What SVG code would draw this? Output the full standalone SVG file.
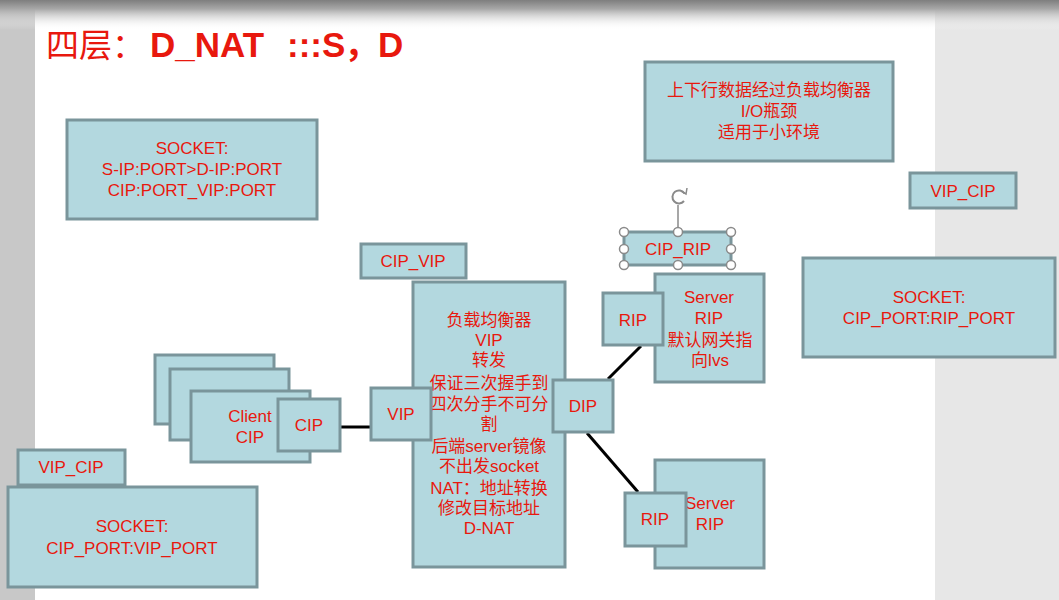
<svg xmlns="http://www.w3.org/2000/svg" width="1059" height="600" viewBox="0 0 1059 600">
<defs>
<linearGradient id="topg" x1="0" y1="0" x2="0" y2="1">
<stop offset="0" stop-color="#7e7e7e"/>
<stop offset="0.3" stop-color="#a8a8a8"/>
<stop offset="1" stop-color="#ffffff" stop-opacity="0"/>
</linearGradient>
<style>
.b{fill:#b3d8df;stroke:#7a959b;stroke-width:3}
.t{fill:#e8180e;font-family:"Liberation Sans","Noto Sans CJK SC",sans-serif;font-size:17px;text-anchor:middle}
.c{stroke:#000;stroke-width:3;fill:none}
.h{fill:#fff;stroke:#8a8a8a;stroke-width:1.5}
.tt{fill:#e8180e;font-family:"Liberation Sans","Noto Sans CJK SC",sans-serif;font-weight:bold;font-size:35px}
</style>
</defs>
<g id="background">
<rect x="0" y="0" width="1059" height="600" fill="#c8c8c8"/>
<rect x="35" y="8" width="900" height="592" fill="#ffffff"/>
<rect x="935" y="8" width="124" height="592" fill="#e7e7e7"/>
<rect x="0" y="0" width="1059" height="30" fill="url(#topg)"/>
</g>
<g id="title">
<text x="46" y="57" fill="#e8180e" font-family="'Noto Sans CJK SC',sans-serif" font-size="33">四层：</text>
<text class="tt" x="150" y="57">D_NAT</text>
<text class="tt" x="287" y="57">:::S</text>
<text class="tt" x="344" y="57" font-family="'Noto Sans CJK SC',sans-serif" font-weight="normal" font-size="33">，</text>
<text class="tt" x="378" y="57">D</text>
</g>
<g id="connectors">
<line class="c" x1="340" y1="427" x2="372" y2="427"/>
<line class="c" x1="608" y1="379" x2="641" y2="346"/>
<line class="c" x1="587" y1="433" x2="638" y2="492"/>
</g>
<g id="socket-top">
<rect class="b" x="67" y="120" width="250" height="99"/>
<text class="t" x="192" y="154">SOCKET:</text>
<text class="t" x="192" y="175">S-IP:PORT&gt;D-IP:PORT</text>
<text class="t" x="192" y="196">CIP:PORT_VIP:PORT</text>
</g>
<g id="note-top">
<rect class="b" x="645" y="62" width="248" height="99"/>
<text class="t" x="769" y="96">上下行数据经过负载均衡器</text>
<text class="t" x="769" y="117">I/O瓶颈</text>
<text class="t" x="769" y="138">适用于小环境</text>
</g>
<g id="vip-cip-right">
<rect class="b" x="910" y="173" width="106" height="35"/>
<text class="t" x="963" y="197">VIP_CIP</text>
</g>
<g id="cip-rip">
<line x1="678" y1="205" x2="678" y2="232" stroke="#8a8a8a" stroke-width="1.5"/>
<rect class="b" x="624" y="232" width="107" height="33"/>
<text class="t" x="678" y="255">CIP_RIP</text>
<path d="M684.5 193.5 A6.5 6.5 0 1 0 684 201" fill="none" stroke="#8a8a8a" stroke-width="2"/>
<path d="M681 191 L686 194 L687 188" fill="none" stroke="#8a8a8a" stroke-width="1.5"/>
<circle class="h" cx="624" cy="232" r="4.5"/>
<circle class="h" cx="678" cy="232" r="4.5"/>
<circle class="h" cx="731" cy="232" r="4.5"/>
<circle class="h" cx="624" cy="249" r="4.5"/>
<circle class="h" cx="731" cy="249" r="4.5"/>
<circle class="h" cx="624" cy="265" r="4.5"/>
<circle class="h" cx="678" cy="265" r="4.5"/>
<circle class="h" cx="731" cy="265" r="4.5"/>
</g>
<g id="socket-right">
<rect class="b" x="803" y="258" width="252" height="99"/>
<text class="t" x="929" y="303">SOCKET:</text>
<text class="t" x="929" y="324">CIP_PORT:RIP_PORT</text>
</g>
<g id="cip-vip">
<rect class="b" x="361" y="244" width="105" height="34"/>
<text class="t" x="413" y="267">CIP_VIP</text>
</g>
<g id="lb">
<rect class="b" x="413" y="282" width="152" height="285"/>
<text class="t" x="489" y="326">负载均衡器</text>
<text class="t" x="489" y="346">VIP</text>
<text class="t" x="489" y="366">转发</text>
<text class="t" x="489" y="389">保证三次握手到</text>
<text class="t" x="489" y="410">四次分手不可分</text>
<text class="t" x="489" y="430">割</text>
<text class="t" x="489" y="452">后端server镜像</text>
<text class="t" x="489" y="472">不出发socket</text>
<text class="t" x="489" y="494">NAT：地址转换</text>
<text class="t" x="489" y="514">修改目标地址</text>
<text class="t" x="489" y="534">D-NAT</text>
</g>
<g id="vip">
<rect class="b" x="371" y="388" width="60" height="52"/>
<text class="t" x="401" y="420">VIP</text>
</g>
<g id="dip">
<rect class="b" x="553" y="380" width="60" height="52"/>
<text class="t" x="583" y="412">DIP</text>
</g>
<g id="client">
<rect class="b" x="155" y="355" width="119" height="69"/>
<rect class="b" x="170" y="369" width="119" height="71"/>
<rect class="b" x="191" y="391" width="119" height="71"/>
<text class="t" x="250" y="422">Client</text>
<text class="t" x="250" y="443">CIP</text>
</g>
<g id="cip">
<rect class="b" x="278" y="399" width="62" height="52"/>
<text class="t" x="309" y="431">CIP</text>
</g>
<g id="server1">
<rect class="b" x="655" y="274" width="109" height="108"/>
<text class="t" x="709" y="303">Server</text>
<text class="t" x="709" y="324">RIP</text>
<text class="t" x="710" y="346">默认网关指</text>
<text class="t" x="710" y="366">向lvs</text>
</g>
<g id="rip1">
<rect class="b" x="603" y="293" width="60" height="52"/>
<text class="t" x="633" y="326">RIP</text>
</g>
<g id="server2">
<rect class="b" x="655" y="460" width="109" height="108"/>
<text class="t" x="710" y="509">Server</text>
<text class="t" x="710" y="530">RIP</text>
</g>
<g id="rip2">
<rect class="b" x="625" y="493" width="61" height="53"/>
<text class="t" x="655" y="525">RIP</text>
</g>
<g id="vip-cip-left">
<rect class="b" x="18" y="450" width="107" height="35"/>
<text class="t" x="71" y="473">VIP_CIP</text>
</g>
<g id="socket-left">
<rect class="b" x="8" y="487" width="249" height="100"/>
<text class="t" x="132" y="532">SOCKET:</text>
<text class="t" x="132" y="554">CIP_PORT:VIP_PORT</text>
</g>
</svg>
